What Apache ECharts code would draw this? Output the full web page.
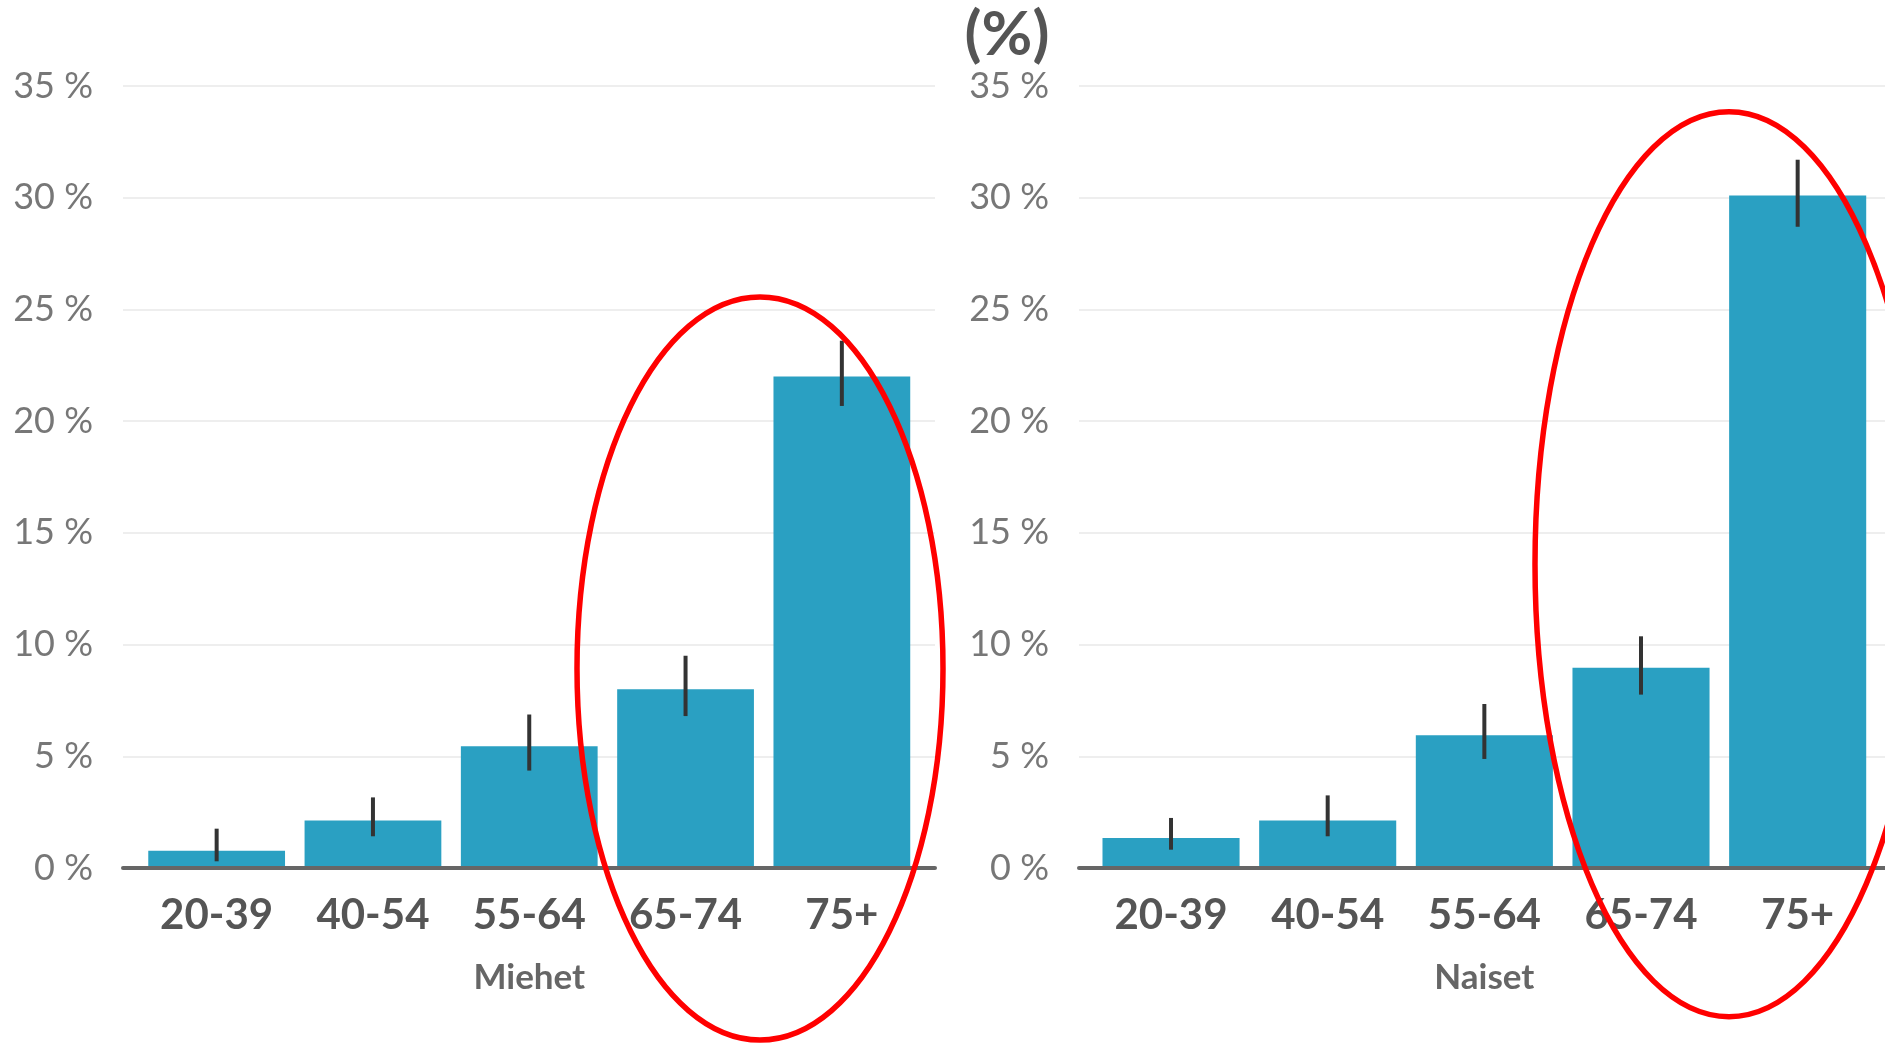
<!DOCTYPE html>
<html>
<head>
<meta charset="utf-8">
<script src="https://cdn.jsdelivr.net/npm/echarts@6/dist/echarts.min.js"></script>
<style>
html,body{margin:0;padding:0;background:#fff;}
#chart{width:1885px;height:1043px;}
</style>
</head>
<body>
<div id="chart"></div>
<script>
const categories = ['20-39', '40-54', '55-64', '65-74', '75+'];
const yTicks = [0, 5, 10, 15, 20, 25, 30, 35];
const menValues = [0.77, 2.13, 5.45, 8.0, 22.0];
const menLow = [0.3, 1.42, 4.36, 6.8, 20.68];
const menHigh = [1.76, 3.16, 6.87, 9.5, 23.6];
const womenValues = [1.34, 2.13, 5.94, 8.96, 30.1];
const womenLow = [0.82, 1.42, 4.88, 7.76, 28.7];
const womenHigh = [2.24, 3.25, 7.34, 10.37, 31.7];
const panelNames = ['Miehet', 'Naiset'];
const unitLabel = '(%)';

const FONT = 'Lato, "Source Sans Pro", "Noto Sans", sans-serif';
const BAR_COLOR = '#2aa0c2';
const TOP = 86, HEIGHT = 782;

const chart = echarts.init(document.getElementById('chart'), null, {renderer: 'canvas'});

function wideGridAxes(gi) {
  return {
    x: {
      gridIndex: gi, type: 'value', min: 0, max: 1, z: 10,
      axisLine: {show: true, lineStyle: {color: '#666', width: 4}},
      axisTick: {show: false}, axisLabel: {show: false}, splitLine: {show: false}
    },
    y: {
      gridIndex: gi, type: 'value', min: yTicks[0], max: yTicks[yTicks.length - 1], interval: 5,
      axisLine: {show: false}, axisTick: {show: false},
      axisLabel: {
        margin: 30, color: '#777', fontFamily: FONT, fontSize: 36,
        formatter: v => v + ' %'
      },
      splitLine: {lineStyle: {color: '#eeeeee', width: 2}}
    }
  };
}
function barGridAxes(gi, name) {
  return {
    x: {
      gridIndex: gi, type: 'category', data: categories,
      axisLine: {show: false}, axisTick: {show: false},
      axisLabel: {margin: 26, color: '#555', fontFamily: FONT, fontSize: 42, fontWeight: 'bold', interval: 0},
      name: name, nameLocation: 'middle', nameGap: 92,
      nameTextStyle: {color: '#666', fontFamily: FONT, fontSize: 35, fontWeight: 'bold'}
    },
    y: {
      gridIndex: gi, type: 'value', min: 0, max: 35, show: false
    }
  };
}

const w0 = wideGridAxes(0), b1 = barGridAxes(1, panelNames[0]);
const w2 = wideGridAxes(2), b3 = barGridAxes(3, panelNames[1]);

function errorSeries(axisIdx, low, high) {
  return {
    type: 'custom', xAxisIndex: axisIdx, yAxisIndex: axisIdx, z: 5,
    data: categories.map((c, i) => [i, low[i], high[i]]),
    renderItem: function (params, api) {
      const a = api.coord([api.value(0), api.value(1)]);
      const b = api.coord([api.value(0), api.value(2)]);
      return {
        type: 'line',
        shape: {x1: a[0], y1: a[1], x2: b[0], y2: b[1]},
        style: {stroke: '#333', lineWidth: 4}
      };
    }
  };
}

const option = {
  backgroundColor: '#fff',
  animation: false,
  grid: [
    {left: 123, width: 812, top: TOP, height: HEIGHT},
    {left: 138.5, width: 781.5, top: TOP, height: HEIGHT},
    {left: 1079, width: 811, top: TOP, height: HEIGHT},
    {left: 1092.7, width: 783.3, top: TOP, height: HEIGHT}
  ],
  xAxis: [w0.x, b1.x, w2.x, b3.x],
  yAxis: [w0.y, b1.y, w2.y, b3.y],
  series: [
    {type: 'bar', xAxisIndex: 1, yAxisIndex: 1, data: menValues, barCategoryGap: '12.5%', itemStyle: {color: BAR_COLOR}},
    errorSeries(1, menLow, menHigh),
    {type: 'bar', xAxisIndex: 3, yAxisIndex: 3, data: womenValues, barCategoryGap: '12.5%', itemStyle: {color: BAR_COLOR}},
    errorSeries(3, womenLow, womenHigh)
  ],
  graphic: [
    {type: 'text', x: 1007, y: 35, z: 20,
     style: {text: unitLabel, fill: '#555', font: 'bold 62px ' + FONT, textAlign: 'center', textVerticalAlign: 'middle'}},
    {type: 'ellipse', z: 100, shape: {cx: 760, cy: 668.5, rx: 183, ry: 371.5},
     style: {fill: null, stroke: '#ff0000', lineWidth: 5.5}},
    {type: 'ellipse', z: 100, shape: {cx: 1729, cy: 564.2, rx: 194, ry: 452.5},
     style: {fill: null, stroke: '#ff0000', lineWidth: 5.5}}
  ]
};
chart.setOption(option);
</script>
</body>
</html>
